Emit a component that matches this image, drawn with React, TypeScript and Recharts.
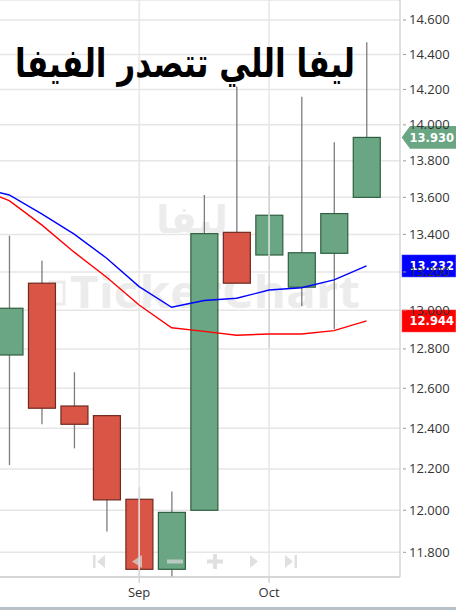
import React from 'react';
import { ComposedChart, Bar, Line, XAxis, YAxis, CartesianGrid, ReferenceLine } from 'recharts';

// weekly candles, first slot only carries the moving averages (its candle is off screen)
const weeks = ['W0', 'W1', 'W2', 'W3', 'W4', 'W5', 'W6', 'W7', 'W8', 'W9', 'W10', 'W11', 'W12'];
const monthLabels = ['', '', '', '', '', 'Sep', '', '', '', 'Oct', '', '', ''];

const opens = [null, 12.769, 13.141, 12.511, 12.463, 12.053, 11.72, 12.0, 13.411, 13.29, 13.12, 13.299, 13.6];
const highs = [null, 13.393, 13.26, 12.681, 12.465, 12.111, 12.09, 13.613, 14.216, 13.773, 14.159, 13.903, 14.47];
const lows = [null, 12.219, 12.42, 12.301, 11.898, 11.64, 11.65, 12.0, 13.141, 12.803, 13.022, 12.901, 13.6];
const closes = [null, 13.01, 12.5, 12.42, 12.05, 11.72, 11.99, 13.404, 13.141, 13.503, 13.302, 13.512, 13.93];

const maBlue = [13.657, 13.613, 13.51, 13.401, 13.273, 13.123, 13.015, 13.05, 13.062, 13.105, 13.117, 13.158, 13.232];
const maRed = [13.653, 13.582, 13.451, 13.305, 13.172, 13.027, 12.909, 12.89, 12.87, 12.877, 12.877, 12.894, 12.944];

const yTicks = [11.8, 12.0, 12.2, 12.4, 12.6, 12.8, 13.0, 13.2, 13.4, 13.6, 13.8, 14.0, 14.2, 14.4, 14.6];

const data = weeks.map((w, i) => ({
  week: w,
  month: monthLabels[i],
  open: opens[i],
  high: highs[i],
  low: lows[i],
  close: closes[i],
  fast: maBlue[i],
  slow: maRed[i],
}));

const lastClose = closes[closes.length - 1] as number;
const lastBlue = maBlue[maBlue.length - 1];
const lastRed = maRed[maRed.length - 1];

const AXIS_FONT = '"Open Sans", "DejaVu Sans", sans-serif';

const Candle = (props: any) => {
  const { x, y, width, height, payload } = props;
  if (!payload || payload.open == null || !height) return null;
  const { open, close, high, low } = payload;
  // log scale: recover pixel positions of open/close from the high-low span
  const k = height / (Math.log(high) - Math.log(low));
  const py = (v: number) => y + k * (Math.log(high) - Math.log(v));
  const up = close >= open;
  const top = py(Math.max(open, close));
  const bot = py(Math.min(open, close));
  const cx = x + width / 2;
  return (
    <g>
      <line x1={cx} x2={cx} y1={y} y2={y + height} stroke="#7c7c7c" strokeWidth={1.3} />
      <rect
        x={x}
        y={top}
        width={width}
        height={Math.max(bot - top, 1)}
        fill={up ? '#6aa684' : '#d95545'}
        stroke={up ? '#2f5f3f' : '#6e2a20'}
        strokeWidth={1.2}
      />
    </g>
  );
};

const YTick = (props: any) => {
  const { x, y, payload } = props;
  return (
    <g>
      <line x1={x + 3} x2={x + 6} y1={y} y2={y} stroke="#9a9a9a" />
      <text x={x + 9} y={y + 4.5} fontSize={13} fill="#333" fontFamily={AXIS_FONT}>
        {payload.value.toFixed(3)}
      </text>
    </g>
  );
};

const XTick = (props: any) => {
  const { x, y, index } = props;
  const label = monthLabels[index];
  if (!label) return null;
  return (
    <g>
      <line x1={x} x2={x} y1={y} y2={y + 6} stroke="#d0d0d0" strokeWidth={1.3} />
      <text x={x} y={y + 20} textAnchor="middle" fontSize={13} fill="#333" fontFamily={AXIS_FONT}>
        {label}
      </text>
    </g>
  );
};

const Badge = ({ viewBox, value, color, arrow }: any) => {
  if (!viewBox) return null;
  const r = viewBox.x + viewBox.width;
  const cy = viewBox.y;
  const h = 11.3;
  return (
    <g>
      {arrow ? (
        <polygon points={`${r + 1.7},${cy} ${r + 10},${cy - h} 456,${cy - h} 456,${cy + h} ${r + 10},${cy + h}`} fill={color} />
      ) : (
        <rect x={r + 1.7} y={cy - h} width={456 - r - 1.7} height={h * 2} fill={color} stroke="#ffffff" strokeOpacity={0.4} />
      )}
      <text x={454} y={cy + 4.5} textAnchor="end" fontSize={11.5} fontWeight="bold" fill="#fff" fontFamily='"DejaVu Sans", sans-serif'>
        {value.toFixed(3)}
      </text>
    </g>
  );
};

const NavControls = () => {
  const c = '#d6d6d6';
  return (
    <g fill={c} opacity={0.75}>
      <rect x={93} y={555} width={2.5} height={13} />
      <polygon points="97,561.5 105,555 105,568" />
      <polygon points="132,561.5 142,555 142,568" />
      <rect x={167} y={559.5} width={16} height={4} />
      <rect x={207} y={559.5} width={16} height={4} />
      <rect x={213} y={554} width={4} height={15} />
      <polygon points="250,555 258,561.5 250,568" />
      <polygon points="285,555 293,561.5 285,568" />
      <rect x={294.5} y={555} width={2.5} height={13} />
    </g>
  );
};

export default function App() {
  return (
    <div style={{ position: 'absolute', left: 0, top: 0, width: 456, height: 610, background: '#fff', overflow: 'hidden' }}>
      {/* watermark behind the chart */}
      <svg width={456} height={610} style={{ position: 'absolute', left: 0, top: 0 }}>
        <text x={192} y={233} textAnchor="middle" fontSize={38} fontWeight="bold" fill="#ececec" fontFamily='"DejaVu Sans", sans-serif'>
          ليفا
        </text>
        <rect x={50} y={282} width={14} height={22} fill="none" stroke="#ececec" strokeWidth={3} />
        <text x={70} y={308} fontSize={44} fontWeight="bold" fill="#ececec" fontFamily='"Open Sans", sans-serif' textLength={290} lengthAdjust="spacingAndGlyphs">
          TickerChart
        </text>
      </svg>
      <div style={{ position: 'absolute', left: 0, top: 0 }}>
        <ComposedChart width={456} height={610} data={data} margin={{ top: 0, right: 0, bottom: 0, left: -39.5 }}>
          <CartesianGrid vertical={false} stroke="#e6e6e6" strokeWidth={1.5} />
          <XAxis
            dataKey="week"
            interval={0}
            height={33}
            padding={{ left: 0, right: 17.25 }}
            axisLine={{ stroke: '#cfcfcf', strokeWidth: 1.3 }}
            tickLine={false}
            tickSize={0}
            tickMargin={0}
            tick={<XTick />}
          />
          <YAxis
            orientation="right"
            scale="log"
            domain={[11.684, 14.717]}
            allowDataOverflow
            ticks={yTicks}
            interval={0}
            width={56}
            axisLine={{ stroke: '#cfcfcf', strokeWidth: 1.3 }}
            tickLine={false}
            tickSize={0}
            tickMargin={0}
            tick={<YTick />}
          />
          <ReferenceLine x="W5" stroke="#e6e6e6" strokeWidth={1.5} />
          <ReferenceLine x="W9" stroke="#e6e6e6" strokeWidth={1.5} />
          <Line type="linear" dataKey="slow" stroke="#ff0000" strokeWidth={1.4} dot={false} activeDot={false} legendType="none" isAnimationActive={false} />
          <Line type="linear" dataKey="fast" stroke="#0000ff" strokeWidth={1.4} dot={false} activeDot={false} legendType="none" isAnimationActive={false} />
          <Bar
            dataKey={(d: any) => (d.open == null ? null : [d.low, d.high])}
            barSize={27}
            shape={<Candle />}
            isAnimationActive={false}
          />
          <ReferenceLine y={lastClose} stroke="none" label={(p: any) => <Badge viewBox={p.viewBox} value={lastClose} color="#6aa684" arrow />} />
          <ReferenceLine y={lastBlue} stroke="none" label={(p: any) => <Badge viewBox={p.viewBox} value={lastBlue} color="#0000ff" />} />
          <ReferenceLine y={lastRed} stroke="none" label={(p: any) => <Badge viewBox={p.viewBox} value={lastRed} color="#ff0000" />} />
        </ComposedChart>
      </div>
      {/* title and navigation overlay */}
      <svg width={456} height={610} style={{ position: 'absolute', left: 0, top: 0, pointerEvents: 'none' }}>
        <text x={15} y={77} fontSize={40} fontWeight="bold" fill="#000" fontFamily='"DejaVu Sans", sans-serif' textLength={340} lengthAdjust="spacingAndGlyphs">
          ليفا اللي تتصدر الفيفا
        </text>
        <NavControls />
        <rect x={0} y={607} width={456} height={3} fill="#b8c0c8" />
      </svg>
    </div>
  );
}
